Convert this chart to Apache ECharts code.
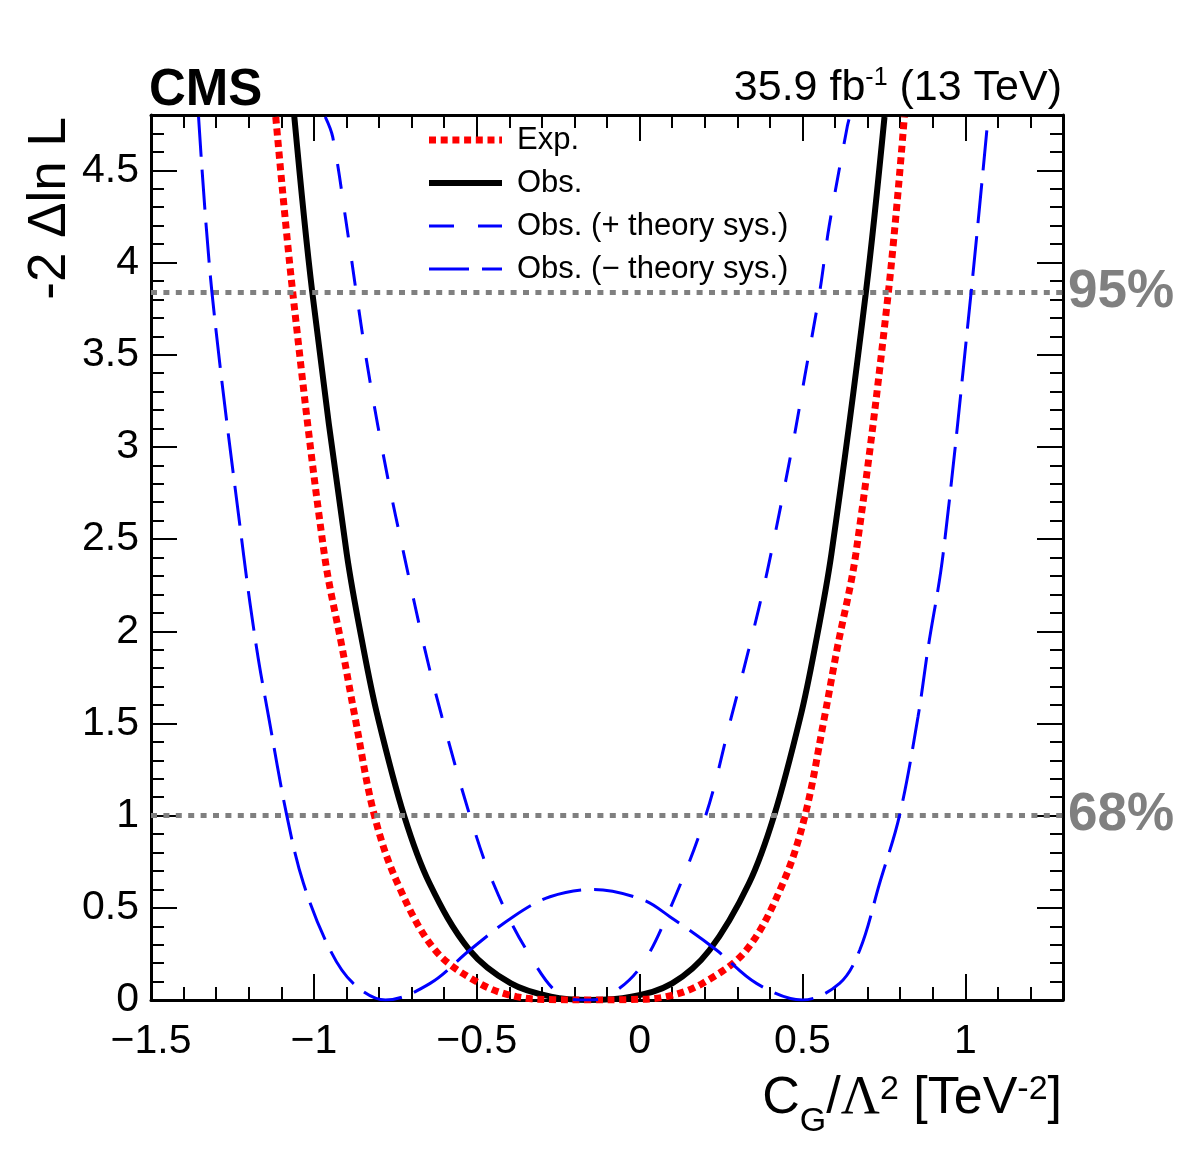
<!DOCTYPE html>
<html>
<head>
<meta charset="utf-8">
<script src="https://cdn.jsdelivr.net/npm/echarts@6/dist/echarts.min.js"></script>
<style>
html, body { margin: 0; padding: 0; background: #fff; }
#main { width: 1182px; height: 1150px; }
</style>
</head>
<body>
<div id="main"></div>
<script>
// Curves: C_G/Lambda^2 vs -2 dlnL
var expX = [-1.117, -1.065, -0.968, -0.912, -0.874, -0.814, -0.743, -0.628, -0.491, -0.378, -0.26, -0.15, -0.04, 0.082, 0.193, 0.328, 0.44, 0.508, 0.568, 0.606, 0.664, 0.764, 0.813];
var expY = [4.79, 3.84, 2.42, 1.9, 1.537, 1.0, 0.633, 0.271, 0.09, 0.018, 0.002, 0, 0.002, 0.018, 0.09, 0.271, 0.633, 1.0, 1.537, 1.9, 2.42, 3.84, 4.79];

var obsX = [-1.06, -1.005, -0.899, -0.847, -0.804, -0.723, -0.645, -0.522, -0.395, -0.272, -0.155, -0.025, 0.1, 0.215, 0.336, 0.413, 0.494, 0.537, 0.589, 0.695, 0.752];
var obsY = [4.79, 3.84, 2.42, 1.9, 1.537, 1.0, 0.633, 0.271, 0.09, 0.018, 0, 0.018, 0.09, 0.271, 0.633, 1.0, 1.537, 1.9, 2.42, 3.84, 4.79];

var plusX = [-0.965, -0.942, -0.899, -0.87, -0.83, -0.774, -0.722, -0.659, -0.607, -0.521, -0.449, -0.347, -0.234, -0.16, -0.101, -0.004, 0.083, 0.203, 0.282, 0.335, 0.393, 0.471, 0.507, 0.553, 0.582, 0.638, 0.645];
var plusY = [4.79, 4.68, 4.196, 3.84, 3.38, 2.84, 2.405, 1.9, 1.537, 1.0, 0.633, 0.271, 0.018, 0, 0.018, 0.163, 0.452, 1.0, 1.537, 1.9, 2.333, 3.02, 3.38, 3.84, 4.196, 4.74, 4.79];

var minusX = [-1.354, -1.313, -1.215, -1.175, -1.139, -1.083, -1.032, -0.95, -0.879, -0.78, -0.643, -0.521, -0.388, -0.275, -0.14, 0.011, 0.093, 0.236, 0.359, 0.5, 0.614, 0.676, 0.737, 0.798, 0.855, 0.885, 0.932, 1.018, 1.069];
var minusY = [4.79, 3.84, 2.405, 1.9, 1.537, 1.0, 0.633, 0.271, 0.09, 0, 0.09, 0.271, 0.452, 0.56, 0.6, 0.543, 0.452, 0.271, 0.09, 0, 0.09, 0.271, 0.633, 1.0, 1.537, 1.9, 2.42, 3.84, 4.77];

// Confidence levels drawn as dotted lines
var clLevels = [1, 3.84];
var clLabels = ['68%', '95%'];

var names = ['Exp.', 'Obs.', 'Obs. (+ theory sys.)', 'Obs. (\u2212 theory sys.)'];

var fuente = '"Liberation Sans", Arial, Helvetica, sans-serif';

// Line styles, same order as names
var colores = ['#ff0000', '#000000', '#0000ff', '#0000ff'];
var anchos = [7, 6, 3, 3];
var trazos = [[7, 4.7], 'solid', [25, 24], [40, 13]];

function pares(xs, ys) {
    return xs.map(function (x, i) { return [x, ys[i]]; });
}

// Labels only on the 0.5 steps, with a real minus sign
function etiqueta(v) {
    if (Math.abs(v * 2 - Math.round(v * 2)) > 1e-6) return '';
    var s = String(+Math.abs(v).toFixed(1));
    return (v < -1e-9 ? '\u2212' : '') + s;
}

function ejeX(pos, major, labels) {
    return {
        type: 'value', position: pos, min: -1.5, max: 1.3,
        interval: major ? 0.5 : 0.1,
        axisLine: { show: major, onZero: false, lineStyle: { color: '#000', width: 3 } },
        axisTick: { show: true, inside: true, length: major ? 26 : 13, lineStyle: { color: '#000', width: 2 } },
        axisLabel: { show: labels, formatter: etiqueta, margin: 21, color: '#000', fontSize: 41, fontFamily: fuente, showMaxLabel: false },
        splitLine: { show: false }
    };
}

function ejeY(pos, major, labels) {
    return {
        type: 'value', position: pos, min: 0, max: 4.8,
        interval: major ? 0.5 : 0.1,
        axisLine: { show: major, onZero: false, lineStyle: { color: '#000', width: 3 } },
        axisTick: { show: true, inside: true, length: major ? 26 : 13, lineStyle: { color: '#000', width: 2 } },
        axisLabel: { show: labels, formatter: etiqueta, margin: 12, color: '#000', fontSize: 41, fontFamily: fuente, showMaxLabel: false },
        splitLine: { show: false }
    };
}

function curva(i, xs, ys, z) {
    return {
        name: names[i], type: 'line', xAxisIndex: 0, yAxisIndex: 0,
        data: pares(xs, ys), symbol: 'none', smooth: 0.35, z: z,
        lineStyle: { color: colores[i], width: anchos[i], type: trazos[i], cap: 'butt' },
        emphasis: { disabled: true }, silent: true
    };
}

// Hand drawn legend (line sample + text per row)
var leyenda = [];
names.forEach(function (n, i) {
    var y = 140 + i * 43;
    leyenda.push({
        type: 'line', silent: true, z: 10,
        shape: { x1: 429, y1: y, x2: 502, y2: y },
        style: { stroke: colores[i], lineWidth: anchos[i], lineDash: trazos[i] === 'solid' ? null : trazos[i], lineCap: 'butt' }
    });
    leyenda.push({
        type: 'text', x: 517, y: y, silent: true, z: 10,
        style: { text: n, font: '31px ' + fuente, fill: '#000', align: 'left', verticalAlign: 'middle' }
    });
});

var grafico = echarts.init(document.getElementById('main'));

var option = {
    backgroundColor: '#fff',
    animation: false,
    grid: { left: 151, top: 115, width: 912, height: 885 },
    xAxis: [ejeX('bottom', true, true), ejeX('bottom', false, false), ejeX('top', true, false), ejeX('top', false, false)],
    yAxis: [ejeY('left', true, true), ejeY('left', false, false), ejeY('right', true, false), ejeY('right', false, false)],
    series: [
        curva(1, obsX, obsY, 3),
        curva(0, expX, expY, 4),
        curva(2, plusX, plusY, 5),
        curva(3, minusX, minusY, 5),
        {
            name: 'cl', type: 'line', data: [], silent: true, z: 2,
            markLine: {
                silent: true, symbol: ['none', 'none'], animation: false,
                lineStyle: { color: '#808080', width: 5, type: [6, 6.4] },
                label: { show: true, position: 'end', distance: 5, color: '#808080', fontSize: 53, fontWeight: 'bold', fontFamily: fuente, padding: [0, 0, 6, 0] },
                data: clLevels.map(function (v, i) {
                    return { yAxis: v, label: { formatter: clLabels[i] } };
                })
            }
        }
    ],
    graphic: leyenda.concat([
        {
            type: 'text', x: 149, y: 91,
            style: { text: 'CMS', font: 'bold 51px ' + fuente, fill: '#000', align: 'left', verticalAlign: 'middle' }
        },
        {
            type: 'text', x: 1062, y: 88,
            style: {
                text: '{b|35.9 fb}{p|-1}{b| (13 TeV)}', align: 'right', verticalAlign: 'middle',
                rich: {
                    b: { fontSize: 43, fontFamily: fuente, color: '#000', verticalAlign: 'middle' },
                    p: { fontSize: 25, fontFamily: fuente, color: '#000', verticalAlign: 'middle', padding: [0, 0, 20, 0] }
                }
            }
        },
        {
            type: 'text', x: 50, y: 117, rotation: Math.PI / 2,
            style: { text: '-2 \u0394ln L', font: '53px ' + fuente, fill: '#000', align: 'right', verticalAlign: 'middle' }
        },
        {
            type: 'text', x: 1062, y: 1099,
            style: {
                text: '{b|C}{s|G}{b|/}{l|\u039b}{p|2}{b| [TeV}{p|-2}{b|]}', align: 'right', verticalAlign: 'middle',
                rich: {
                    b: { fontSize: 52, fontFamily: fuente, color: '#000', verticalAlign: 'middle' },
                    l: { fontSize: 54, fontFamily: '"Liberation Serif", "Times New Roman", serif', color: '#000', verticalAlign: 'middle' },
                    p: { fontSize: 34, fontFamily: fuente, color: '#000', verticalAlign: 'middle', padding: [0, 0, 18, 0] },
                    s: { fontSize: 34, fontFamily: fuente, color: '#000', verticalAlign: 'middle', padding: [46, 0, 0, 0] }
                }
            }
        }
    ])
};

grafico.setOption(option);
</script>
</body>
</html>
